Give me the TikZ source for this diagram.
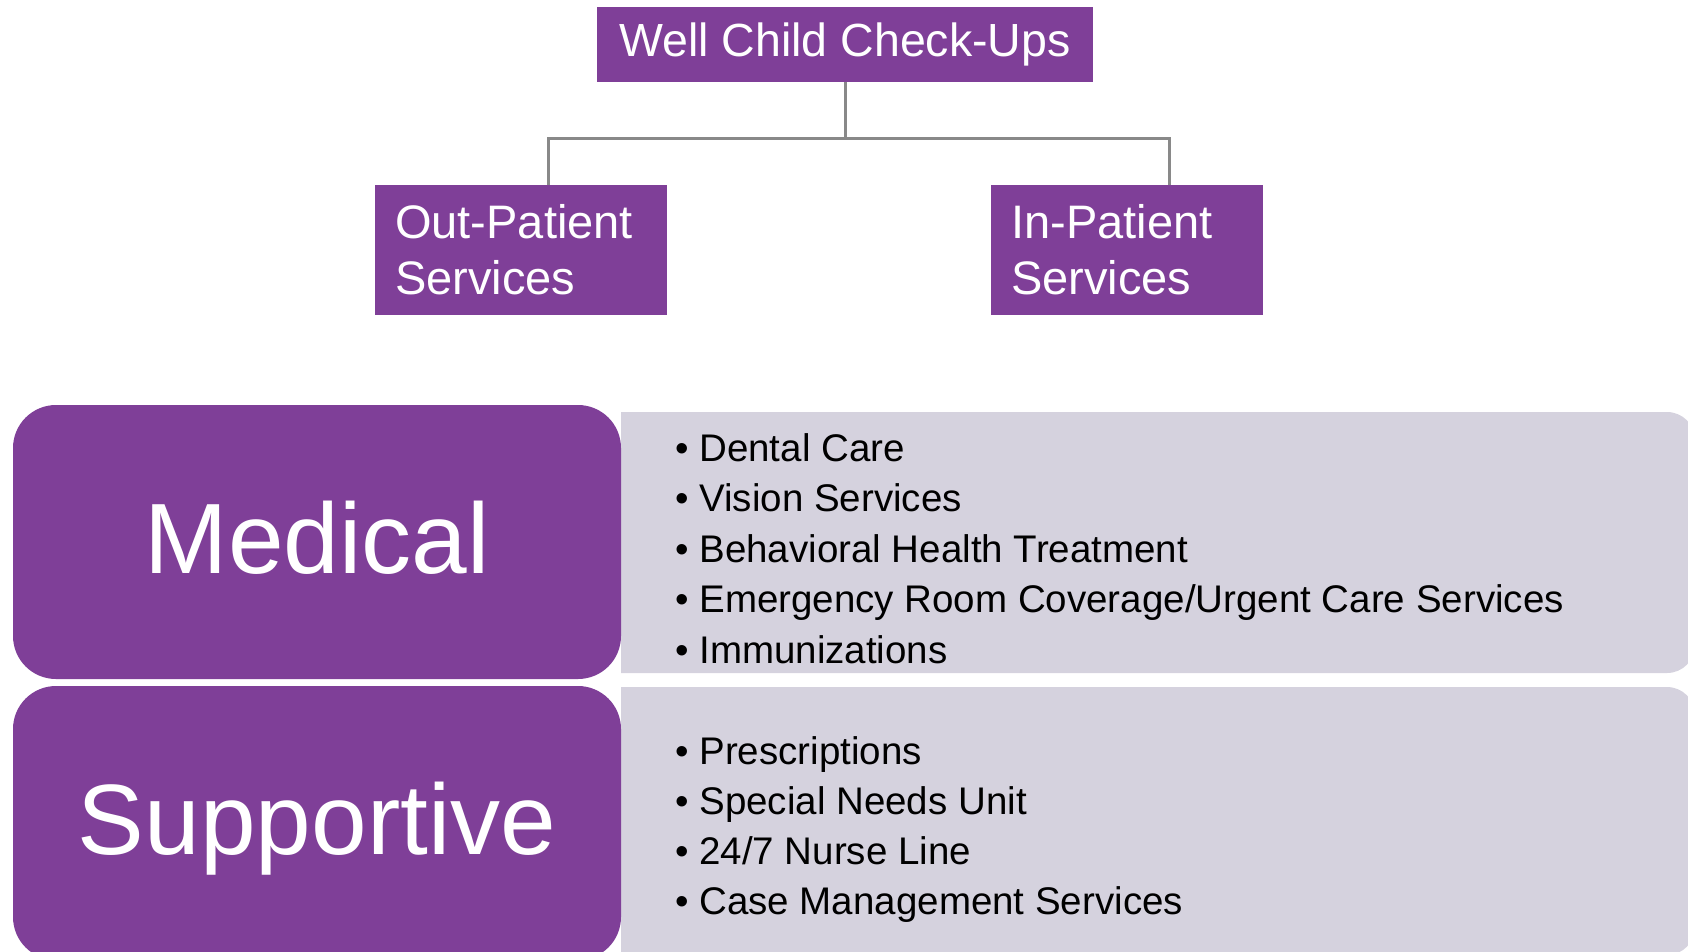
\documentclass[tikz,border=0pt]{standalone}
\usepackage{fontspec}
\setmainfont{Liberation Sans}
\definecolor{wcpurple}{RGB}{127,63,152}
\definecolor{wcgray}{RGB}{213,210,222}
\definecolor{wcline}{RGB}{137,137,137}

\begin{document}
\begin{tikzpicture}[x=1pt,y=1pt,
    topbox/.style={fill=wcpurple,text=white,font=\fontsize{46.5}{56}\selectfont,minimum width=496,minimum height=75,inner sep=0},
    subbox/.style={fill=wcpurple,text=white,font=\fontsize{47}{56}\selectfont,align=left,text width=#1,inner xsep=20,inner ysep=0,minimum height=130,anchor=west},
    bigbox/.style={fill=wcpurple,text=white,font=\fontsize{100}{110}\selectfont,rounded corners=43,minimum width=608,minimum height=274,inner sep=0,text height=73,text depth=10},
    itemtext/.style={font=\fontsize{38.5}{46}\selectfont,anchor=base west,inner sep=0},
    link/.style={draw=wcline,line width=3}]

  %%%% Frame of the page %%%%
  \clip (0,0) rectangle (1688,-951);

  %% Gray panels behind the lists (round on the right only)
  \fill[wcgray] (621,-412) -- (1667,-412) arc[start angle=90,end angle=0,radius=28]
    -- (1695,-645) arc[start angle=0,end angle=-90,radius=28] -- (621,-673) -- cycle;
  \fill[wcgray] (621,-687) -- (1667,-687) arc[start angle=90,end angle=0,radius=28]
    -- (1695,-927) arc[start angle=0,end angle=-90,radius=28] -- (621,-955) -- cycle;

  %% Tree on top
  \node[topbox] (wcc) at (845,-44) {Well Child Check-Ups};
  \node[subbox=252] (outp) at (375,-250) {Out-Patient\\Services};
  \node[subbox=232] (inp) at (991,-250) {In-Patient\\Services};

  \coordinate (bus) at ([yshift=-57]wcc.south);
  \draw[link] (wcc.south) -- (bus);
  \draw[link] ([xshift=27]outp.north) |- (bus) -| ([xshift=42]inp.north);

  %% Big rounded blocks
  \node[bigbox] (med) at (317,-542) {Medical};
  \node[bigbox] (sup) at (317,-823) {Supportive};

  %% Bullet lists
  \foreach \txt [count=\i] in {Dental Care,Vision Services,Behavioral Health Treatment,Emergency Room Coverage/Urgent Care Services,Immunizations}{
    \node[itemtext] (med-\i) at (675,{-461-50.5*(\i-1)}) {\textbullet\ \txt};
  }
  \foreach \txt [count=\i] in {Prescriptions,Special Needs Unit,24/7 Nurse Line,Case Management Services}{
    \node[itemtext] (sup-\i) at (675,{-764-50.3*(\i-1)}) {\textbullet\ \txt};
  }

\end{tikzpicture}
\end{document}
